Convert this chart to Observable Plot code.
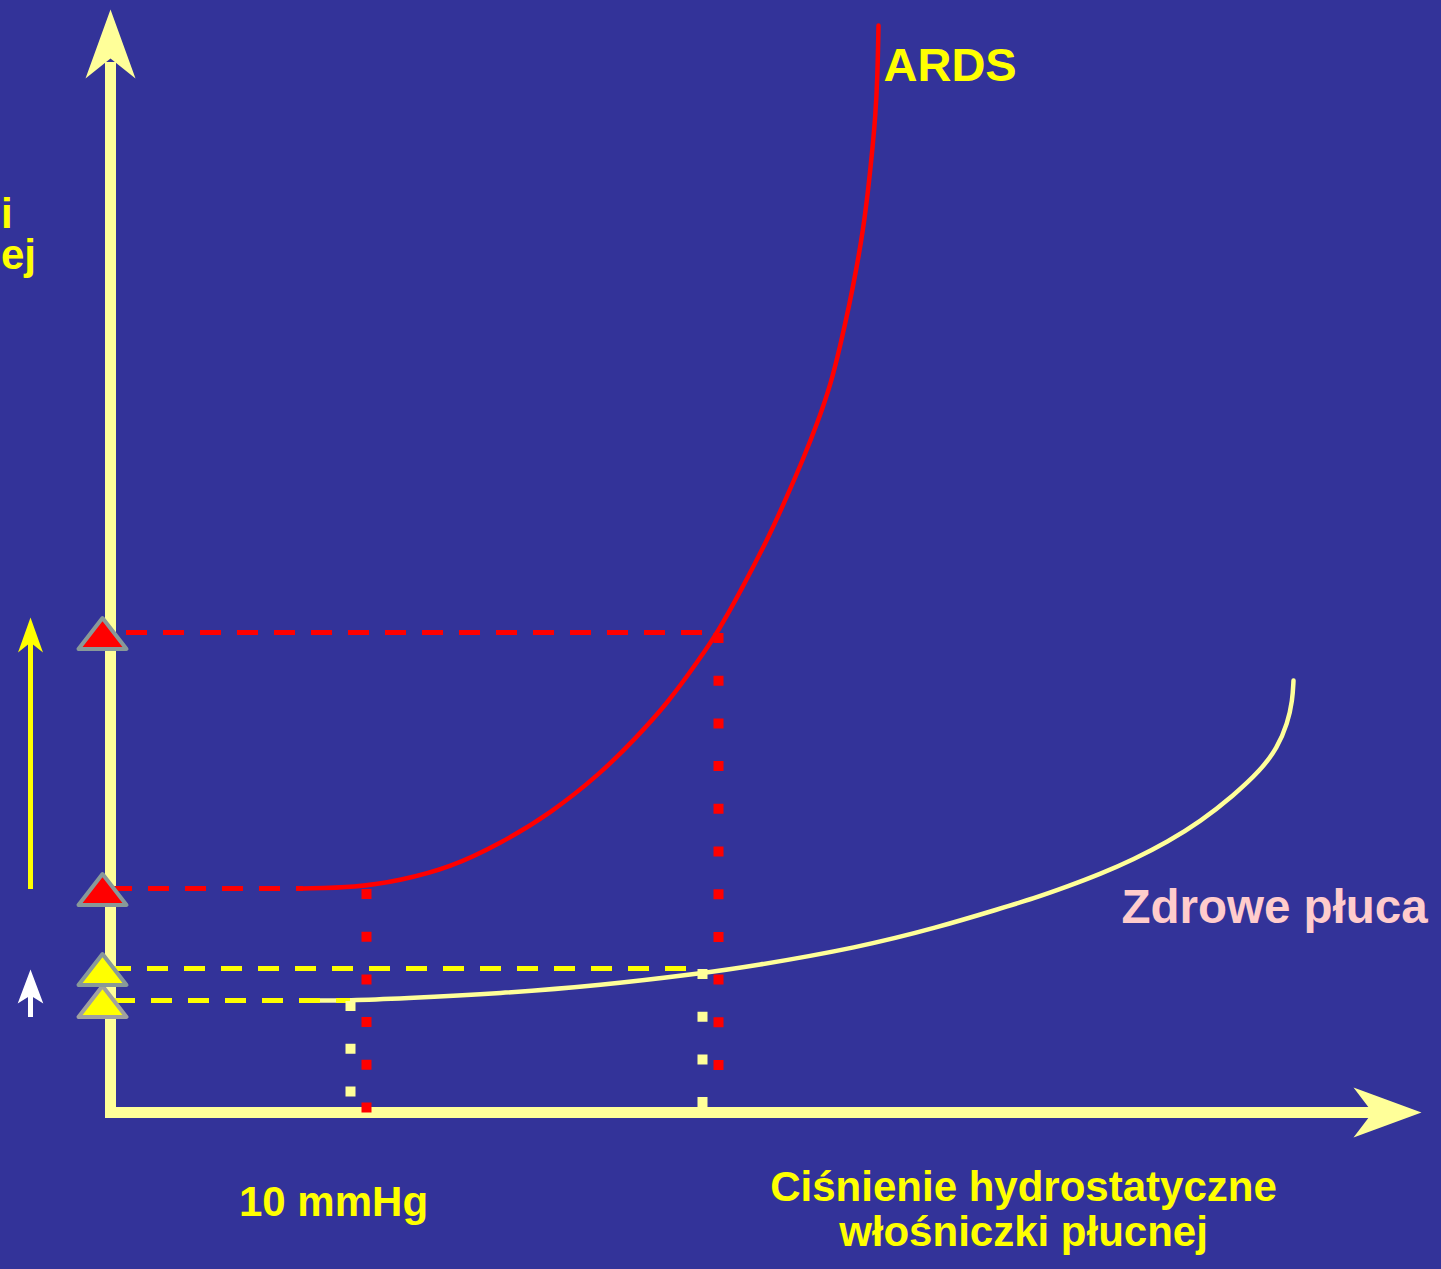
<!DOCTYPE html>
<html>
<head>
<meta charset="utf-8">
<script src="https://cdn.jsdelivr.net/npm/d3@7"></script>
<script src="https://cdn.jsdelivr.net/npm/@observablehq/plot@0.6"></script>
<style>
html, body { margin: 0; padding: 0; background: #333399; overflow: hidden; }
</style>
</head>
<body>
<div id="chart"></div>
<script>
// ---- Data (x: capillary hydrostatic pressure, mmHg; y: filtration, arbitrary units) ----
const ardsX = [7.72, 9.8, 11.6, 13.6, 15.6, 17.6, 19.6, 20.92, 22.28, 23.6, 24.28, 25.2, 26.34, 27.04, 27.7, 28.3, 28.82, 29.2, 29.54, 29.84, 30.1, 30.3, 30.46, 30.6, 30.68, 30.72];
const ardsY = [22.4, 22.5, 23.2, 24.5, 26.9, 29.9, 33.9, 37.2, 40.9, 45.5, 48.0, 52.1, 57.6, 61.5, 65.3, 69.1, 72.9, 76.8, 80.6, 84.4, 88.2, 92.1, 95.9, 99.7, 103.6, 108.7];
const healthyX = [7.8, 9.6, 11.6, 15.6, 19.6, 23.6, 25.6, 29.92, 33.08, 35.6, 36.92, 38.28, 39.6, 40.92, 42.28, 43.6, 44.92, 46.0, 46.68, 47.08, 47.28, 47.32];
const healthyY = [11.2, 11.2, 11.4, 11.9, 12.7, 13.9, 14.6, 16.5, 18.5, 20.4, 21.4, 22.6, 23.85, 25.3, 27.05, 29.1, 31.7, 34.2, 36.5, 38.9, 41.2, 43.2];

// filtration levels: [low pressure, high pressure]
const ardsLevels = [22.4, 48.0];
const healthyLevels = [11.2, 14.4];
// pressures of the vertical guides: [low, high]
const ardsPressures = [10.24, 24.32];
const healthyPressures = [9.6, 23.68];
// end of horizontal guides (where they meet the curves)
const ardsGuideEnd = [7.72, 24.2];
const healthyGuideEnd = [9.6, 23.2];
// bottom of vertical dotted guides
const ardsDotEnd = [-0.1, 4.2];
const healthyDotEnd = [1.2, 0.5];

const labelArds = "ARDS";
const labelHealthy = "Zdrowe płuca";
const tickLabel = "10 mmHg";
const xTitle = "Ciśnienie hydrostatyczne\nwłośniczki płucnej";
const yTitle = "i\nej";
const tickValue = 10;
const xAxisEnd = 52.44;
const yAxisEnd = 110.3;

// ---- Helpers ----
const arrowHead = (L, W, N) => ({
  draw(ctx) {
    ctx.moveTo(0, 0);
    ctx.lineTo(W, L);
    ctx.lineTo(0, N);
    ctx.lineTo(-W, L);
    ctx.closePath();
  }
});
const tri = {
  draw(ctx) {
    ctx.moveTo(0, -14.5);
    ctx.lineTo(24, 16.5);
    ctx.lineTo(-24, 16.5);
    ctx.closePath();
  }
};
const font = "'Liberation Sans', Arial, Helvetica, sans-serif";
const axisColor = "#FFFF99";
const pt = (x, y) => [{x, y}];

const ards = ardsX.map((x, i) => ({x, y: ardsY[i]}));
const healthy = healthyX.map((x, i) => ({x, y: healthyY[i]}));

const chart = Plot.plot({
  width: 1441,
  height: 1269,
  margin: 0,
  x: {domain: [-4.4, 53.24], axis: null},
  y: {domain: [-15.7, 111.2], axis: null},
  style: {background: "#333399", overflow: "visible"},
  marks: [
    // axes
    Plot.ruleY([0], {x1: -0.2, x2: 50.6, stroke: axisColor, strokeWidth: 11}),
    Plot.ruleX([0], {y1: -0.55, y2: 105, stroke: axisColor, strokeWidth: 11}),
    Plot.dot(pt(0, yAxisEnd), {x: "x", y: "y", symbol: arrowHead(69, 25, 49), fill: axisColor}),
    Plot.dot(pt(xAxisEnd, 0), {x: "x", y: "y", symbol: arrowHead(68, 25, 49), fill: axisColor, rotate: 90}),

    // curves
    Plot.line(healthy, {x: "x", y: "y", stroke: "#FFFF99", strokeWidth: 4.5, curve: "basis", strokeLinecap: "round"}),
    Plot.line(ards, {x: "x", y: "y", stroke: "#FF0000", strokeWidth: 4.5, curve: "basis", strokeLinecap: "round"}),

    // horizontal dashed guides
    Plot.ruleY([ardsLevels[1]], {x1: 0, x2: ardsGuideEnd[1], stroke: "#FF0000", strokeWidth: 5, strokeDasharray: "21 16", strokeDashoffset: 21}),
    Plot.ruleY([ardsLevels[0]], {x1: 0, x2: ardsGuideEnd[0], stroke: "#FF0000", strokeWidth: 5, strokeDasharray: "21 16", strokeDashoffset: 36}),
    Plot.ruleY([healthyLevels[1]], {x1: 0, x2: healthyGuideEnd[1], stroke: "#FFFF00", strokeWidth: 5, strokeDasharray: "21 16", strokeDashoffset: 0}),
    Plot.ruleY([healthyLevels[0]], {x1: 0, x2: healthyGuideEnd[0], stroke: "#FFFF00", strokeWidth: 5, strokeDasharray: "21 16", strokeDashoffset: 33}),

    // vertical dotted guides
    Plot.ruleX([ardsPressures[0]], {y1: ardsLevels[0] - 0.1, y2: ardsDotEnd[0], stroke: "#FF0000", strokeWidth: 10, strokeDasharray: "10 32.7"}),
    Plot.ruleX([ardsPressures[1]], {y1: ardsLevels[1] - 0.1, y2: ardsDotEnd[1], stroke: "#FF0000", strokeWidth: 10, strokeDasharray: "10 32.7"}),
    Plot.ruleX([healthyPressures[0]], {y1: healthyLevels[0] - 0.1, y2: healthyDotEnd[0], stroke: "#FFFF99", strokeWidth: 10, strokeDasharray: "10 32.7"}),
    Plot.ruleX([healthyPressures[1]], {y1: healthyLevels[1] - 0.1, y2: healthyDotEnd[1], stroke: "#FFFF99", strokeWidth: 10, strokeDasharray: "10 32.7"}),

    // triangle markers on the y axis
    Plot.dot(pt(-0.32, healthyLevels[0]), {x: "x", y: "y", symbol: tri, fill: "#FFFF00", stroke: "#A0A0A0", strokeWidth: 4, strokeLinejoin: "round"}),
    Plot.dot(pt(-0.32, healthyLevels[1]), {x: "x", y: "y", symbol: tri, fill: "#FFFF00", stroke: "#889999", strokeWidth: 4, strokeLinejoin: "round"}),
    Plot.dot(pt(-0.32, ardsLevels[0]), {x: "x", y: "y", symbol: tri, fill: "#FF0000", stroke: "#889999", strokeWidth: 4, strokeLinejoin: "round"}),
    Plot.dot(pt(-0.32, ardsLevels[1]), {x: "x", y: "y", symbol: tri, fill: "#FF0000", stroke: "#889999", strokeWidth: 4, strokeLinejoin: "round"}),

    // increase arrows on the left
    Plot.ruleX([-3.2], {y1: 22.3, y2: 48, stroke: "#FFFF00", strokeWidth: 5}),
    Plot.dot(pt(-3.2, 49.5), {x: "x", y: "y", symbol: arrowHead(35, 12.5, 25), fill: "#FFFF00"}),
    Plot.ruleX([-3.2], {y1: 9.5, y2: 12.5, stroke: "#FFFFFF", strokeWidth: 5}),
    Plot.dot(pt(-3.2, 14.3), {x: "x", y: "y", symbol: arrowHead(34, 12.8, 26), fill: "#FFFFFF"}),

    // labels
    Plot.text([labelArds], {x: 30.92, y: 103.2, text: d => d, textAnchor: "start", lineAnchor: "bottom", fill: "#FFFF00", fontSize: 47, fontWeight: "bold", fontFamily: font}),
    Plot.text([labelHealthy], {x: 40.44, y: 19.0, text: d => d, textAnchor: "start", lineAnchor: "bottom", fill: "#FFCCCC", fontSize: 47.5, fontWeight: "bold", fontFamily: font}),
    Plot.text([tickLabel], {x: tickValue - 1.08, y: -10.3, text: d => d, textAnchor: "middle", lineAnchor: "bottom", fill: "#FFFF00", fontSize: 42, fontWeight: "bold", fontFamily: font}),
    Plot.text([xTitle], {x: 36.52, y: -13.3, text: d => d, textAnchor: "middle", lineAnchor: "bottom", lineHeight: 1.07, fill: "#FFFF00", fontSize: 42, fontWeight: "bold", fontFamily: font}),
    Plot.text([yTitle], {x: -4.38, y: 84.4, text: d => d, textAnchor: "start", lineAnchor: "bottom", lineHeight: 0.976, fill: "#FFFF00", fontSize: 42, fontWeight: "bold", fontFamily: font})
  ]
});
document.getElementById("chart").appendChild(chart);
</script>
</body>
</html>
